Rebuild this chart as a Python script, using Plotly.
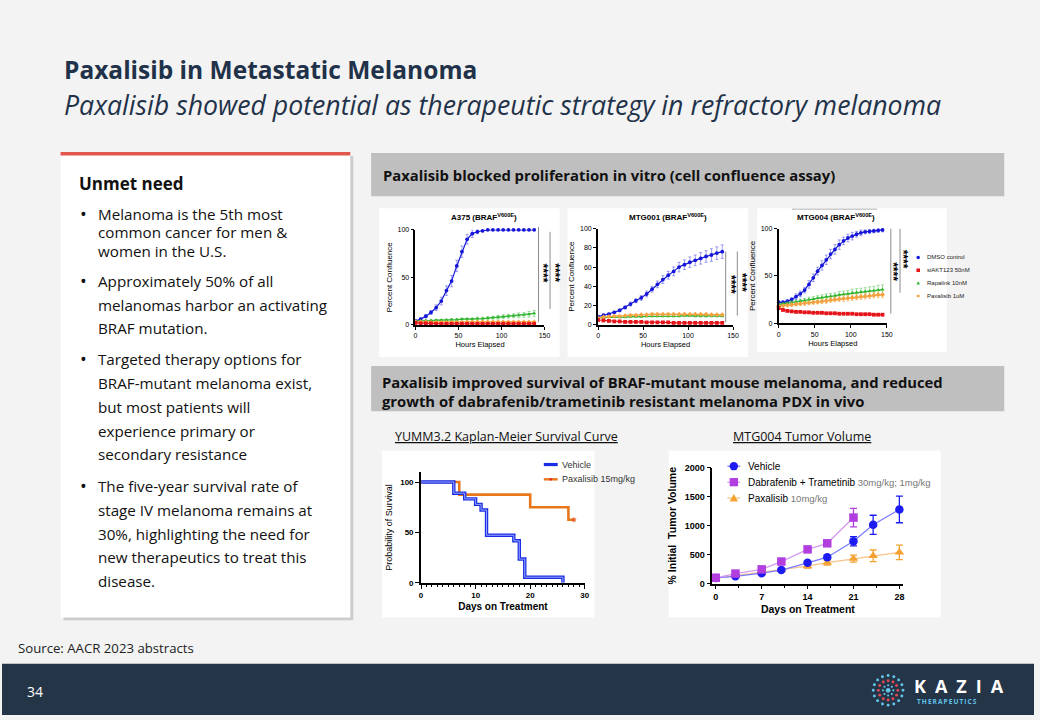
import numpy as np
import plotly.graph_objects as go

W, H = 1040, 720
SLIDE_FONT = "'Open Sans', 'Noto Sans', sans-serif"
CHART_FONT = "'Liberation Sans', Arial, sans-serif"
NAVY = "#1f3249"
BLUE, RED, GREEN, ORANGE = "#1616d8", "#e5141b", "#2fb52f", "#f4a340"


def X(p):
    return p / W


def Y(p):
    return 1 - p / H


# ---- in vitro cell confluence (%) vs hours elapsed
hours_ab = [0, 6, 12, 18, 24, 30, 36, 42, 48, 54, 60, 66, 72, 78, 84, 90, 96, 102, 108, 114, 120, 126, 132, 138]
hours_c = [0, 6, 12, 18, 24, 30, 36, 42, 48, 54, 60, 66, 72, 78, 84, 90, 96, 102, 108, 114, 120, 126, 132, 138, 144]

a375_dmso = [4, 6, 9, 13, 18, 25, 36, 46, 62, 77, 90, 96, 98, 99, 100, 100, 100, 100, 100, 100, 100, 100, 100, 100]
a375_dmso_err = [1, 1, 1.5, 2, 3, 4, 5, 6, 6, 6, 5, 4, 2, 1, 0.5, 0.5, 0.5, 0.5, 0.5, 0.5, 0.5, 0.5, 0.5, 0.5]
a375_siakt = [2, 1.5, 1.5, 1.5, 1, 1, 1, 1, 1, 1, 1, 1, 1, 1, 1, 1, 1, 1, 1, 1, 1, 1, 1, 1]
a375_rapalink = [4, 4, 4.5, 4.5, 5, 5, 5, 5.5, 5.5, 6, 6, 6, 6.5, 6.5, 7, 7.5, 8, 8.5, 9, 9.5, 10, 10.5, 11, 12]
a375_rapalink_err = [0.5, 0.5, 0.5, 0.5, 0.5, 0.5, 1, 1, 1, 1, 1, 1, 1.5, 1.5, 1.5, 1.5, 2, 2, 2, 2, 2.5, 2.5, 3, 3]
a375_paxalisib = [3, 3, 3, 2.5, 2.5, 2.5, 2.5, 2.5, 2.5, 2.5, 3, 3, 3, 3, 3, 3, 3, 3, 3, 3, 3, 3, 3, 3]

mtg001_dmso = [8.5, 10, 11, 13, 15, 18, 21.5, 25, 28, 32, 37, 42, 47, 51.5, 55.5, 60, 62.5, 65, 67, 69, 71, 72.5, 74.5, 76]
mtg001_dmso_err = [1, 1, 1, 1, 1.5, 1.5, 2, 2, 2.5, 3, 3, 3.5, 4, 4, 4.5, 5, 5, 5.5, 5.5, 6, 6, 6.5, 6.5, 7]
mtg001_siakt = [5, 4.5, 4, 3.5, 3.5, 3, 3, 3, 3, 2.5, 2.5, 2.5, 2.5, 2.5, 2, 2, 2, 2, 2, 2, 2, 2, 2, 2]
mtg001_rapalink = [7.5, 7.5, 8, 8, 8, 8, 8.5, 8.5, 8.5, 9, 9, 9, 9, 9, 9, 9, 9.5, 9.5, 9, 9, 9, 9, 9, 9]
mtg001_rapalink_err = [0.5, 0.5, 0.5, 0.5, 1, 1, 1, 1, 1, 1, 1, 1, 1, 1, 1, 1, 1, 1, 1, 1, 1, 1, 1, 1]
mtg001_paxalisib = [7, 8, 8.5, 9, 9, 9.5, 10, 10, 10.5, 10.5, 11, 11, 11, 11, 11, 11, 11, 11, 11, 11, 11, 10.5, 10.5, 10.5]

mtg004_dmso = [22, 22, 23, 25, 28, 31, 35, 41, 48, 55, 61, 67, 73, 78, 83, 87, 90, 92, 94, 95.5, 96.5, 97, 97.5, 98, 98.5]
mtg004_dmso_err = [2, 2, 2, 2, 3, 3, 3, 4, 4, 4, 5, 5, 5, 5, 5, 4, 4, 4, 3, 3, 2, 2, 2, 2, 2]
mtg004_siakt = [16, 14, 13, 12.5, 12, 12, 11.5, 11.5, 11, 11, 11, 10.5, 10.5, 10.5, 10, 10, 10, 10, 9.5, 9.5, 9.5, 9.5, 9, 9, 9]
mtg004_rapalink = [20, 20.5, 21, 22, 22.5, 23.5, 24, 25, 25.5, 26.5, 27, 28, 28.5, 29, 30, 30.5, 31, 32, 32.5, 33, 33.5, 34, 34.5, 35, 35.5]
mtg004_rapalink_err = [1, 1, 1.5, 1.5, 2, 2, 2, 2.5, 2.5, 2.5, 3, 3, 3, 3, 3.5, 3.5, 3.5, 4, 4, 4, 4, 4.5, 4.5, 5, 5]
mtg004_paxalisib = [18, 18.5, 19, 19.5, 20, 20.5, 21, 21.5, 22, 22.5, 23, 23.5, 24.5, 25, 25.5, 26, 26.5, 27, 27.5, 28, 28.5, 29, 29.5, 30, 30]
mtg004_paxalisib_err = [1, 1, 1, 1.5, 1.5, 1.5, 2, 2, 2, 2, 2, 2.5, 2.5, 2.5, 2.5, 3, 3, 3, 3, 3, 3, 3, 3, 3, 3]

confluence_labels = ["DMSO control", "siAKT123 50nM", "Rapalink 10nM", "Paxalisib 1uM"]

# ---- YUMM3.2 Kaplan-Meier
km_vehicle_days = [0, 6, 8, 10, 11, 12, 17, 18, 19, 26]
km_vehicle_surv = [100, 88.9, 83.3, 77.8, 72.2, 47.2, 41.7, 23.6, 5.6, 0]
km_pax_days = [0, 7, 20, 27, 28]
km_pax_surv = [100, 87.5, 75, 62.5, 62.5]

# ---- MTG004 tumour volume (% initial)
tv_days = [0, 3, 7, 10, 14, 17, 21, 24, 28]
tv_vehicle = [97, 125, 180, 233, 358, 455, 730, 1015, 1280]
tv_vehicle_err = [8, 10, 12, 15, 25, 30, 80, 165, 230]
tv_combo_days = [0, 3, 7, 10, 14, 17, 21]
tv_combo = [100, 172, 245, 380, 590, 695, 1140]
tv_combo_err = [8, 12, 15, 30, 40, 40, 160]
tv_pax = [95, 140, 195, 240, 300, 360, 430, 480, 540]
tv_pax_err = [8, 10, 15, 20, 35, 40, 60, 100, 125]

bullets = [
    ["Melanoma is the 5th most", "common cancer for men &", "women in the U.S."],
    ["Approximately 50% of all", "melanomas harbor an activating", "BRAF mutation."],
    ["Targeted therapy options for", "BRAF-mutant melanoma exist,", "but most patients will",
     "experience primary or", "secondary resistance"],
    ["The five-year survival rate of", "stage IV melanoma remains at", "30%, highlighting the need for",
     "new therapeutics to treat this", "disease."],
]

fig = go.Figure()

# confluence charts
conf_sets = [
    ("x", "y", hours_ab, a375_dmso, a375_dmso_err, a375_rapalink, a375_rapalink_err, a375_paxalisib, None, a375_siakt),
    ("x2", "y2", hours_ab, mtg001_dmso, mtg001_dmso_err, mtg001_rapalink, mtg001_rapalink_err, mtg001_paxalisib, None, mtg001_siakt),
    ("x3", "y3", hours_c, mtg004_dmso, mtg004_dmso_err, mtg004_rapalink, mtg004_rapalink_err, mtg004_paxalisib, mtg004_paxalisib_err, mtg004_siakt),
]
for xa, ya, hrs, dmso, dmso_err, rapa, rapa_err, pax, pax_err, siakt in conf_sets:
    series = [
        (dmso, dmso_err, BLUE, "circle", "rgba(40,40,230,0.55)"),
        (rapa, rapa_err, GREEN, "triangle-up", "rgba(60,190,60,0.6)"),
        (pax, pax_err, ORANGE, "diamond", "rgba(245,165,70,0.6)"),
        (siakt, None, RED, "square", RED),
    ]
    for vals, err, col, sym, ecol in series:
        fig.add_trace(go.Scatter(
            x=hrs, y=vals, xaxis=xa, yaxis=ya, mode="lines+markers",
            line=dict(color=col, width=1.2), marker=dict(color=col, size=3.8, symbol=sym),
            error_y=dict(type="data", array=err, color=ecol, thickness=0.8, width=1.5, visible=err is not None),
            cliponaxis=False, showlegend=False, hoverinfo="skip"))

# Kaplan-Meier
fig.add_trace(go.Scatter(x=km_pax_days, y=km_pax_surv, xaxis="x4", yaxis="y4", mode="lines+markers",
                         line=dict(color="#e8771c", width=2.6, shape="hv"),
                         marker=dict(size=[0, 0, 0, 0, 4], color="#e0301e"),
                         cliponaxis=False, showlegend=False, hoverinfo="skip"))
fig.add_trace(go.Scatter(x=km_vehicle_days, y=km_vehicle_surv, xaxis="x4", yaxis="y4", mode="lines",
                         line=dict(color="#1a2ee6", width=3.4, shape="hv"),
                         cliponaxis=False, showlegend=False, hoverinfo="skip"))
fig.add_trace(go.Scatter(x=km_vehicle_days, y=km_vehicle_surv, xaxis="x4", yaxis="y4", mode="lines",
                         line=dict(color="#a9b4ff", width=0.9, shape="hv"),
                         cliponaxis=False, showlegend=False, hoverinfo="skip"))

# tumour volume
tv_sets = [
    (tv_days, tv_pax, tv_pax_err, "#f5a233", "#f7c48a", "triangle-up"),
    (tv_days, tv_vehicle, tv_vehicle_err, "#1c1cf0", "#7b7bff", "circle"),
    (tv_combo_days, tv_combo, tv_combo_err, "#b23ee0", "#d49bef", "square"),
]
for d, v, e, col, lcol, sym in tv_sets:
    fig.add_trace(go.Scatter(x=d, y=v, xaxis="x5", yaxis="y5", mode="lines+markers",
                             line=dict(color=lcol, width=1.3),
                             marker=dict(color=col, size=8.5, symbol=sym),
                             error_y=dict(type="data", array=e, color=col, thickness=1.3, width=3.5),
                             cliponaxis=False, showlegend=False, hoverinfo="skip"))


def axis(domain, rng, title, tsize, fsize, bold=False, standoff=4, lw=1.8, **kw):
    w = "bold" if bold else "normal"
    a = dict(domain=domain, range=rng, showline=True, linecolor="black", linewidth=lw,
             ticks="outside", ticklen=3, tickwidth=1.3, tickcolor="black",
             showgrid=False, zeroline=False, fixedrange=True,
             tickfont=dict(family=CHART_FONT, size=fsize, color="black", weight=w),
             title=dict(text=title, standoff=standoff,
                        font=dict(family=CHART_FONT, size=tsize, color="black")))
    a.update(kw)
    return a


def xdom(a, b):
    return [X(a), X(b)]


def ydom(top, bottom):
    return [Y(bottom), Y(top)]


layout_axes = dict(
    xaxis=axis(xdom(416.7, 546.7), [0, 150], "Hours Elapsed", 7.5, 7, anchor="y", tickvals=[0, 50, 100, 150]),
    yaxis=axis(ydom(228, 324.3), [0, 100], "Percent Confluence", 8, 7, anchor="x", tickvals=[0, 50, 100]),
    xaxis2=axis(xdom(600.7, 736.7), [0, 150], "Hours Elapsed", 7.5, 7, anchor="y2", tickvals=[0, 50, 100, 150]),
    yaxis2=axis(ydom(226.7, 324.3), [0, 100], "Percent Confluence", 8, 7, anchor="x2", tickvals=[0, 20, 40, 60, 80, 100]),
    xaxis3=axis(xdom(782.7, 891.7), [0, 150], "Hours Elapsed", 7.5, 7, anchor="y3", tickvals=[0, 50, 100, 150]),
    yaxis3=axis(ydom(226.7, 322.7), [0, 100], "Percent Confluence", 8, 7, anchor="x3", tickvals=[0, 50, 100]),
    xaxis4=axis(xdom(422.3, 587.3), [0, 30], "<b>Days on Treatment</b>", 10, 8, bold=True, anchor="y4",
                tick0=0, dtick=10, ticklen=4,
                minor=dict(dtick=1, ticklen=2.5, tickwidth=1, tickcolor="black", ticks="outside")),
    yaxis4=axis(ydom(473.5, 586), [0, 110], "Probability of Survival", 9, 8, bold=True, anchor="x4",
                tickvals=[0, 50, 100], ticklen=4, standoff=6),
    xaxis5=axis(xdom(716, 908.3), [-0.5, 28.6], "<b>Days on Treatment</b>", 10.5, 9, bold=True, anchor="y5",
                tick0=0, dtick=7, ticklen=4,
                minor=dict(dtick=3.5, ticklen=2.5, tickwidth=1, tickcolor="black", ticks="outside")),
    yaxis5=axis(ydom(469.3, 586.7), [0, 2000], "<b>% Initial  Tumor Volume</b>", 10.5, 9, bold=True, anchor="x5",
                tickvals=[0, 500, 1000, 1500, 2000], ticklen=4, standoff=6),
)

shapes = []
ann = []


def rect(x0, y0, x1, y1, color):
    shapes.append(dict(type="rect", xref="paper", yref="paper", x0=X(x0), x1=X(x1), y0=Y(y1), y1=Y(y0),
                       fillcolor=color, line=dict(width=0), layer="below"))


def vline(x, y0, y1, color="#8c8c8c", width=1):
    shapes.append(dict(type="line", xref="paper", yref="paper", x0=X(x), x1=X(x), y0=Y(y0), y1=Y(y1),
                       line=dict(color=color, width=width), layer="below"))


def hline(x0, x1, y, color, width=1):
    shapes.append(dict(type="line", xref="paper", yref="paper", x0=X(x0), x1=X(x1), y0=Y(y), y1=Y(y),
                       line=dict(color=color, width=width), layer="below"))


def marker(sym, cx, cy, r, color):
    if sym == "circle":
        shapes.append(dict(type="circle", xref="paper", yref="paper", x0=X(cx - r), x1=X(cx + r),
                           y0=Y(cy + r), y1=Y(cy - r), fillcolor=color, line=dict(width=0), layer="below"))
    elif sym == "square":
        rect(cx - r, cy - r, cx + r, cy + r, color)
    else:
        if sym == "triangle-up":
            pts = [(cx - r, cy + r * 0.8), (cx + r, cy + r * 0.8), (cx, cy - r)]
        else:
            pts = [(cx, cy - r), (cx + r, cy), (cx, cy + r), (cx - r, cy)]
        path = "M " + " L ".join(f"{X(a):.5f},{Y(b):.5f}" for a, b in pts) + " Z"
        shapes.append(dict(type="path", xref="paper", yref="paper", path=path,
                           fillcolor=color, line=dict(width=0), layer="below"))


def text(x, y, s, size, color="#111111", family=SLIDE_FONT, xanchor="left", yanchor="middle", **kw):
    ann.append(dict(x=X(x), y=Y(y), xref="paper", yref="paper", text=s, showarrow=False,
                    xanchor=xanchor, yanchor=yanchor,
                    font=dict(family=family, size=size, color=color), **kw))


# slide furniture
rect(0, 668, 1040, 720, "#253548")
rect(62, 153, 354, 624, "rgba(0,0,0,0.16)")
rect(59, 150, 351, 621, "white")
rect(59, 149, 351, 152.5, "#e2574c")
rect(372, 150, 1010, 194, "#bfbfbf")
rect(372, 366, 1010, 412, "#bfbfbf")
rect(380, 206, 562, 357, "white")
rect(570, 206, 752, 357, "white")
rect(761, 206, 952, 352, "white")
rect(383, 452, 597, 621, "white")
rect(672, 452, 946, 621, "white")
hline(796, 882, 207, "#b0b0b0")

# significance bars
for x, y0, y1 in [(540.7, 225, 321.7), (552.3, 230, 308.3), (729.3, 250, 321.7), (741, 250, 315),
                  (895.7, 227, 313), (905, 227, 291.7)]:
    vline(x, y0, y1)
for x, y in [(545.5, 271.7), (557, 271.7), (734, 283.3), (745.5, 281.7), (898, 270), (907.7, 258)]:
    text(x, y, "<b>****</b>", 12, color="black", family=CHART_FONT, xanchor="center", textangle=90)

# confluence legend
for i, (lab, col, sym) in enumerate(zip(confluence_labels, [BLUE, RED, GREEN, ORANGE],
                                        ["circle", "square", "triangle-up", "diamond"])):
    ry = 256 + 13 * i
    marker(sym, 923.3, ry, 1.8, col)
    text(930, ry, lab, 6, color="#222", family=CHART_FONT)

# chart titles
for x, s in [(486, "A375 (BRAF<sup>V600E</sup>)"), (671, "MTG001 (BRAF<sup>V600E</sup>)"),
             (840, "MTG004 (BRAF<sup>V600E</sup>)")]:
    text(x, 215, "<b>" + s + "</b>", 8, color="black", family=CHART_FONT, xanchor="center")

# KM legend
hline(546, 560, 466, "#1a2ee6", 3.2)
hline(546, 560, 481, "#e8771c", 2.4)
marker("circle", 553, 481, 1.4, "#e0301e")
text(562, 466, "Vehicle", 9, color="#333", family=CHART_FONT)
text(562, 481, "Paxalisib 15mg/kg", 9, color="#333", family=CHART_FONT)

# tumour legend
tv_legend = [("Vehicle", "#1c1cf0", "#7b7bff", "circle"),
             ("Dabrafenib + Trametinib <span style='color:#777777;font-size:9.5px'>30mg/kg; 1mg/kg</span>",
              "#b23ee0", "#d49bef", "square"),
             ("Paxalisib <span style='color:#777777;font-size:9.5px'>10mg/kg</span>", "#f5a233", "#f7c48a",
              "triangle-up")]
for i, (lab, col, lcol, sym) in enumerate(tv_legend):
    ry = 467.7 + 16.2 * i
    hline(731, 744, ry, lcol, 1.3)
    marker(sym, 737.5, ry, 4.2, col)
    text(750, ry, lab, 10, color="black", family=CHART_FONT)

# titles and text
text(60, 65, "<b>Paxalisib in Metastatic Melanoma</b>", 24.5, color=NAVY)
text(60, 100.5, "<i>Paxalisib showed potential as therapeutic strategy in refractory melanoma</i>", 26.7, color=NAVY)
text(76, 181, "<b>Unmet need</b>", 17, color="#111")
bullet_starts = [212, 280, 359, 488]
bullet_steps = [18.6, 24, 24.2, 24]
for lines, y0, step in zip(bullets, bullet_starts, bullet_steps):
    text(77, y0, "•", 18, color="#111")
    for k, line in enumerate(lines):
        text(95, y0 + k * step, line, 15.2, color="#111")

text(382, 172, "<b>Paxalisib blocked proliferation in vitro (cell confluence assay)</b>", 14.8)
text(381, 382, "<b>Paxalisib improved survival of BRAF-mutant mouse melanoma, and reduced</b>", 14.8)
text(381, 402, "<b>growth of dabrafenib/trametinib resistant melanoma PDX in vivo</b>", 14.8)
text(394, 438, "<u>YUMM3.2 Kaplan-Meier Survival Curve</u>", 12.5)
text(735, 438, "<u>MTG004 Tumor Volume</u>", 12.5)
text(14, 652, "Source: AACR 2023 abstracts", 13.2, color="#222")
text(23, 696, "34", 14, color="white")

# logo
LIGHT = "#62c4ea"
for r, n, col, size in [(15, 16, LIGHT, 1.5), (9.8, 12, "#e24a55", 1.45), (5.2, 8, LIGHT, 1.1)]:
    for k in range(n):
        ang = 2 * np.pi * k / n
        marker("circle", 893 + r * np.cos(ang), 695 + r * np.sin(ang), size, col)
marker("circle", 893, 695, 2.4, LIGHT)
text(917, 691, "<b>K\u2002A\u2002Z\u2002I\u2002A</b>", 18, color="white")
text(920, 706, "<b>T\u2009H\u2009E\u2009R\u2009A\u2009P\u2009E\u2009U\u2009T\u2009I\u2009C\u2009S</b>", 6.5, color=LIGHT)

fig.update_layout(
    width=W, height=H, margin=dict(l=0, r=0, t=0, b=0),
    paper_bgcolor="#f3f3f3", plot_bgcolor="rgba(0,0,0,0)",
    showlegend=False, shapes=shapes, annotations=ann, **layout_axes)

fig.write_html("out.html", config={"displayModeBar": False},
               post_script="document.body.style.margin='0';document.body.style.overflow='hidden';")
